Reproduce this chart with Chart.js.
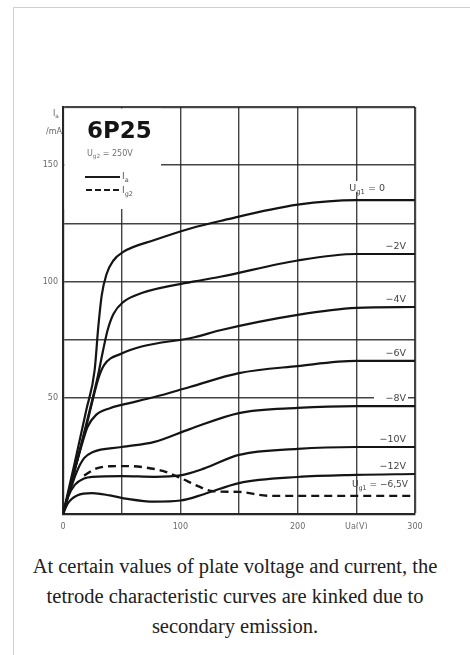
<!DOCTYPE html>
<html><head><meta charset="utf-8">
<script src="https://cdn.jsdelivr.net/npm/chart.js@4.4.0/dist/chart.umd.min.js"></script>
<style>
html,body{margin:0;padding:0;background:#fff;}
body{width:470px;height:655px;position:relative;overflow:hidden;}
#frame{position:absolute;left:13px;top:7px;width:470px;height:660px;border-top:1px solid #d0d0d0;border-left:1px solid #d0d0d0;}
#wrap{position:absolute;left:0;top:0;width:470px;height:545px;}
#cap{position:absolute;left:14px;width:442px;top:551px;text-align:center;font-family:"Liberation Serif","Times New Roman",serif;font-size:20.5px;line-height:30px;color:#202020;}
</style></head>
<body>
<div id="frame"></div>
<div id="wrap"><canvas id="c" width="470" height="545"></canvas></div>
<div id="cap">At certain values of plate voltage and current, the tetrode characteristic curves are kinked due to secondary emission.</div>
<script>
// ---- data (plate voltage Ua in V, plate current Ia in mA) ----
const ua_0   = [0,10,20,27,30,33,37,43,51,78,110,134,200,250,300];
const ia_0   = [0,22,45,62,80,94,103,109,112.6,117.8,123,126,133,135,135];
const ua_m2  = [0,10,20,30,34,38,43,51,67,112,134,200,250,300];
const ia_m2  = [0,19,39,60,70,79,86,91,95,100,102,109,111.8,111.8];
const ua_m4  = [0,10,20,30,35,50,67,112,134,200,250,300];
const ia_m4  = [0,19,38,58,64,69,72,76,79,85.6,88.6,89];
const ua_m6  = [0,8,15,21,28,40,50,78,108,150,200,250,300];
const ia_m6  = [0,15,28,37.5,42.5,45.5,46.9,50.3,54.6,60.6,63.6,65.8,65.8];
const ua_m8  = [0,6,12,18,25,50,78,108,150,200,250,300];
const ia_m8  = [0,10,18.5,24,26.6,28.8,31,36.5,43.4,45.6,46.4,46.4];
const ua_m10 = [0,4,10,18,25,50,78,100,120,150,200,250,300];
const ia_m10 = [0,7,12.5,15.3,16,16.3,16,16.6,19.5,25.4,28,28.8,28.8];
const ua_m12 = [0,4,12,25,40,55,78,100,120,150,200,250,300];
const ia_m12 = [0,4.5,8,9,8,6.5,5.3,5.8,8.5,13.3,15.9,16.8,17.2];
// screen-grid current Ig2 (dashed)
const ua_g2  = [18,28,40,55,70,85,100,115,128,150,176,300];
const ig2    = [16.5,19.5,20.5,20.6,20,18.5,15.5,12,9.8,9.5,7.8,7.8];

const curveLabels = ['U_{g1} = 0','−2V','−4V','−6V','−8V','−10V','−12V'];
const g2Label = 'U_{g1} = −6,5V';
const xTickValues = [0,100,200,250,300];
const xTickLabels = ['0','100','200','Ua(V)','300'];
const yTickValues = [50,100,150];
const yTickLabels = ['50','100','150'];
const tubeName = '6P25';
const screenVoltage = 'U_{g2} = 250V';

const zip = (xs, ys) => xs.map((x,i)=>({x, y: ys[i]}));
const solid = [[ua_0,ia_0],[ua_m2,ia_m2],[ua_m4,ia_m4],[ua_m6,ia_m6],[ua_m8,ia_m8],[ua_m10,ia_m10],[ua_m12,ia_m12]];
const datasets = solid.map((c,i)=>({label: curveLabels[i], data: zip(c[0],c[1]), borderColor:'#141414', borderWidth:2.2}));
datasets.push({label:'Ig2', data: zip(ua_g2, ig2), borderColor:'#141414', borderWidth:2.4, borderDash:[8,5]});

const SANS = '"DejaVu Sans", "Liberation Sans", sans-serif';

function parseRich(s){
  const parts=[]; const re=/_\{([^}]*)\}/g; let last=0, m;
  while((m=re.exec(s))){ if(m.index>last) parts.push({t:s.slice(last,m.index)}); parts.push({t:m[1],sub:true}); last=re.lastIndex; }
  if(last<s.length) parts.push({t:s.slice(last)});
  return parts;
}
function drawRich(ctx, s, x, y, size, align){
  const parts=parseRich(s);
  const f=p=>`${p.sub?size*0.72:size}px ${SANS}`;
  let w=0; parts.forEach(p=>{ctx.font=f(p); w+=ctx.measureText(p.t).width;});
  let cx = align==='right'? x-w : x;
  ctx.textBaseline='alphabetic'; ctx.textAlign='left';
  parts.forEach(p=>{ctx.font=f(p); ctx.fillText(p.t, cx, p.sub? y+size*0.3 : y); cx+=ctx.measureText(p.t).width;});
  return w;
}

const decor = {
  id:'decor',
  beforeDatasetsDraw(chart){
    const {ctx, chartArea:a} = chart;
    ctx.save(); ctx.fillStyle='#fff';
    ctx.fillRect(a.left+1.5, a.top+1.5, 161-(a.left+1.5), 209-(a.top+1.5));
    const xs=chart.scales.x, ys=chart.scales.y;
    solid.forEach((c,i)=>{
      const yy=ys.getPixelForValue(c[1][c[1].length-1]) - (i===0?13:9);
      const xr = xs.getPixelForValue(300) - (i===0?30:9);
      const w = i===0?40:30;
      ctx.fillRect(xr-w-2, yy-6, w+4, 11);
    });
    ctx.restore();
  },
  afterDraw(chart){
    const {ctx, chartArea:a} = chart;
    const xs=chart.scales.x, ys=chart.scales.y;
    ctx.save();
    ctx.fillStyle='#444';
    solid.forEach((c,i)=>{
      const yy=ys.getPixelForValue(c[1][c[1].length-1]) - (i===0?13:9);
      const xr = xs.getPixelForValue(300) - (i===0?30:9);
      drawRich(ctx, curveLabels[i], xr, yy+4, 9.5, 'right');
    });
    drawRich(ctx, g2Label, xs.getPixelForValue(300)-7, ys.getPixelForValue(ig2[ig2.length-1])-9, 9, 'right');
    ctx.fillStyle='#151515';
    ctx.font=`bold 23px ${SANS}`; ctx.textAlign='left'; ctx.textBaseline='alphabetic';
    ctx.fillText(tubeName, a.left+24, a.top+31);
    ctx.fillStyle='#707070';
    drawRich(ctx, screenVoltage, a.left+24, a.top+49, 8, 'left');
    ctx.strokeStyle='#1a1a1a'; ctx.lineWidth=2.2;
    ctx.beginPath(); ctx.moveTo(a.left+22, a.top+70); ctx.lineTo(a.left+57, a.top+70); ctx.stroke();
    ctx.setLineDash([6,3]);
    ctx.beginPath(); ctx.moveTo(a.left+23, a.top+83); ctx.lineTo(a.left+57, a.top+83); ctx.stroke();
    ctx.setLineDash([]);
    ctx.fillStyle='#555';
    drawRich(ctx, 'I_{a}', a.left+59, a.top+72, 9, 'left');
    drawRich(ctx, 'I_{g2}', a.left+59, a.top+86, 9, 'left');
    ctx.fillStyle='#666';
    drawRich(ctx, 'I_{a}', a.left-10, a.top+9, 8, 'left');
    ctx.font=`8px ${SANS}`; ctx.textAlign='right';
    ctx.fillText('/mA', a.left-1, a.top+27);
    ctx.restore();
  }
};

const gridColor = 'rgba(35,35,35,0.85)';
new Chart(document.getElementById('c'), {
  type:'line',
  data:{datasets},
  options:{
    responsive:false, animation:false,
    layout:{padding:{left:40, top:107, right:55, bottom:16}},
    plugins:{legend:{display:false}, tooltip:{enabled:false}},
    elements:{point:{radius:0}, line:{cubicInterpolationMode:'monotone', fill:false}},
    scales:{
      x:{type:'linear', min:0, max:300, afterFit:s=>{s.height=15;},
        ticks:{stepSize:50, autoSkip:false, maxRotation:0, padding:8, color:'#6a6a6a', font:{size:8, family:SANS},
          callback:v=>{const i=xTickValues.indexOf(v); return i>=0?xTickLabels[i]:'';}},
        grid:{drawTicks:false, color:gridColor, lineWidth:c=>c.tick && c.tick.value===300?2.2:1.4},
        border:{color:'#262626', width:2.2}},
      y:{type:'linear', min:0, max:175, afterFit:s=>{s.width=23;},
        ticks:{stepSize:25, autoSkip:false, padding:5, color:'#6a6a6a', font:{size:8, family:SANS},
          callback:v=>{const i=yTickValues.indexOf(v); return i>=0?yTickLabels[i]:'';}},
        grid:{drawTicks:false, color:c=>c.tick && c.tick.value===25?'rgba(0,0,0,0)':gridColor,
          lineWidth:c=>c.tick && c.tick.value===175?2.2:1.4},
        border:{color:'#262626', width:2.2}}
    }
  },
  plugins:[decor]
});
</script>
</body></html>
